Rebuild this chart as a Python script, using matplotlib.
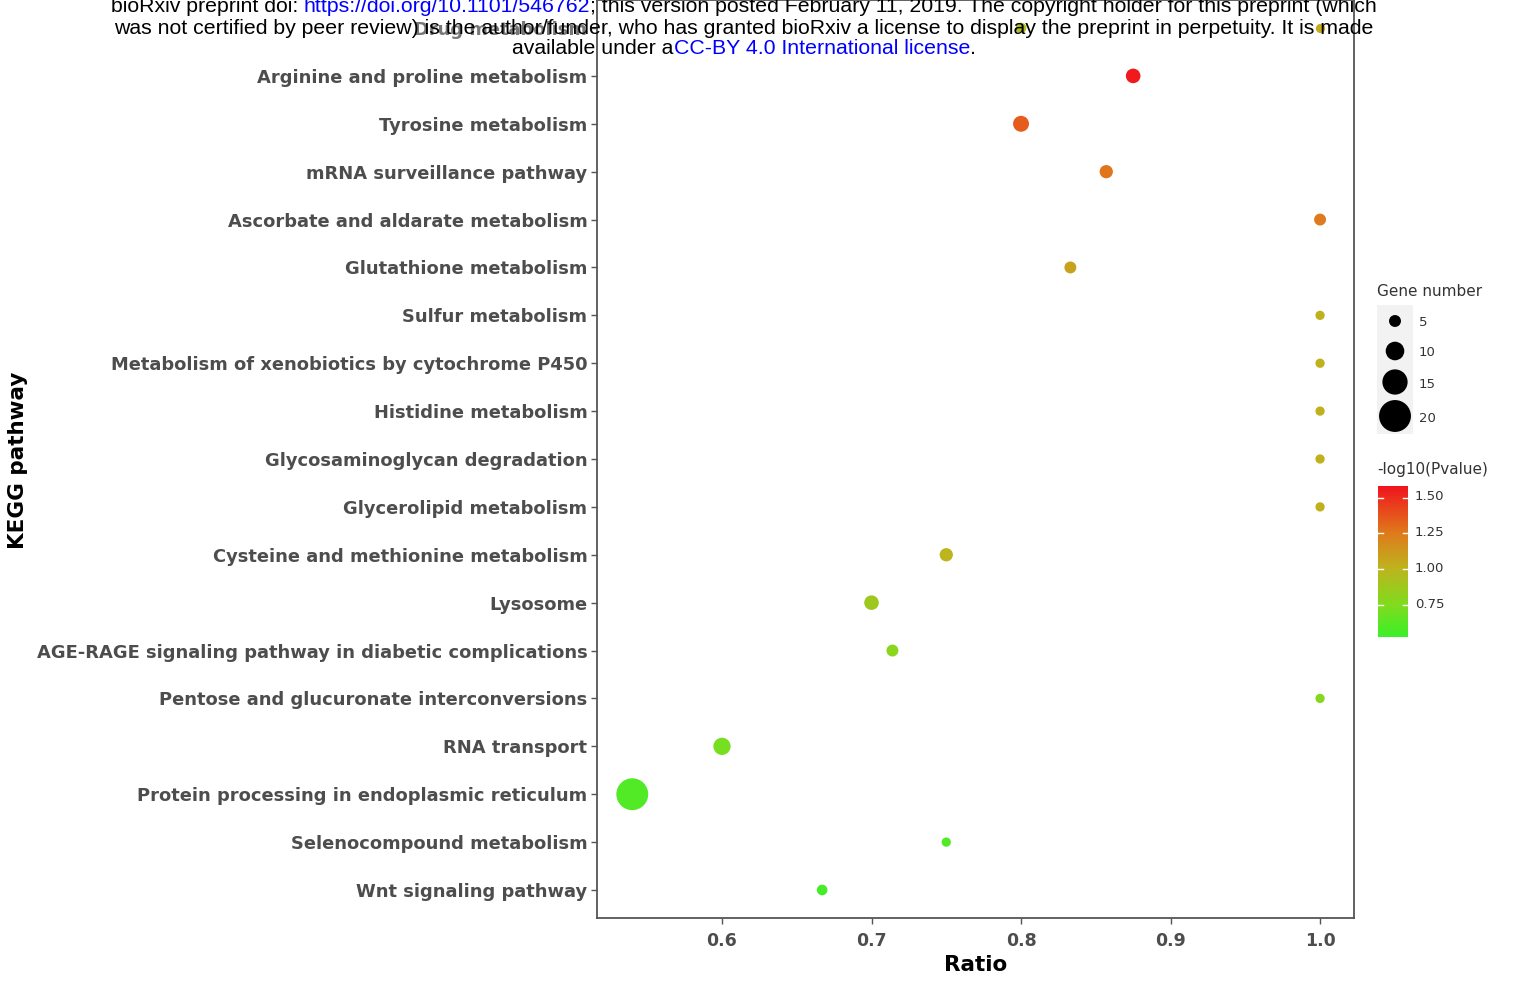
import numpy as np
import matplotlib
matplotlib.use("Agg")
import matplotlib.pyplot as plt
from matplotlib.colors import LinearSegmentedColormap, Normalize

# --- data (bottom row first) ---
pathways = [
    "Wnt signaling pathway",
    "Selenocompound metabolism",
    "Protein processing in endoplasmic reticulum",
    "RNA transport",
    "Pentose and glucuronate interconversions",
    "AGE-RAGE signaling pathway in diabetic complications",
    "Lysosome",
    "Cysteine and methionine metabolism",
    "Glycerolipid metabolism",
    "Glycosaminoglycan degradation",
    "Histidine metabolism",
    "Metabolism of xenobiotics by cytochrome P450",
    "Sulfur metabolism",
    "Glutathione metabolism",
    "Ascorbate and aldarate metabolism",
    "mRNA surveillance pathway",
    "Tyrosine metabolism",
    "Arginine and proline metabolism",
    "Drug metabolism",
]
ratio = [0.667, 0.75, 0.54, 0.60, 1.0, 0.714, 0.70, 0.75, 1.0, 1.0,
         1.0, 1.0, 1.0, 0.833, 1.0, 0.857, 0.80, 0.875, 0.80]
gene_number = [4, 3, 20, 9, 3, 5, 7, 6, 3, 3, 3, 3, 3, 5, 5, 6, 8, 7, 4]
neg_log_p = [0.56, 0.60, 0.60, 0.72, 0.78, 0.80, 0.88, 1.00, 1.02, 1.02,
             1.02, 1.02, 1.02, 1.08, 1.25, 1.27, 1.35, 1.56, 0.95]
# second point on the top row
extra_ratio = [1.0]
extra_genes = [3]
extra_p = [1.05]

size_breaks = [5, 10, 15, 20]
color_ticks = [0.75, 1.00, 1.25, 1.50]
p_min, p_max = 0.53, 1.58

W, H, DPI = 1519, 982, 100
fig = plt.figure(figsize=(W / DPI, H / DPI), dpi=DPI)

cmap = LinearSegmentedColormap.from_list(
    "gr", [(0.0, "#3CF02A"), (0.21, "#80DC1E"), (0.45, "#BDB51E"),
           (0.69, "#E07A1C"), (1.0, "#F0141E")])
norm = Normalize(p_min, p_max)


def marker_area(n):
    d = 5.3 + 1.33 * np.asarray(n, dtype=float)  # diameter in px
    return (d * 72 / DPI) ** 2


text_gray = "#4D4D4D"
frame_gray = "#555555"

ax = fig.add_axes([597 / W, 1 - 918 / H, (1354 - 597) / W, 918 / H])
ypos = np.arange(len(pathways))
ax.scatter(ratio, ypos, s=marker_area(gene_number), c=neg_log_p,
           cmap=cmap, norm=norm, linewidths=0, zorder=3)
ax.scatter(extra_ratio, [len(pathways) - 1] * len(extra_ratio),
           s=marker_area(extra_genes), c=extra_p, cmap=cmap, norm=norm,
           linewidths=0, zorder=3)
ax.set_xlim(0.5164, 1.0227)
ax.set_ylim(-0.585, len(pathways) - 1 + 0.585)
ax.set_yticks(ypos)
ax.set_yticklabels(pathways, fontsize=12.9, fontweight="bold", color=text_gray)
ax.get_yticklabels()[-1].set_color("#777777")
ax.set_xticks([0.6, 0.7, 0.8, 0.9, 1.0])
ax.set_xticklabels(["0.6", "0.7", "0.8", "0.9", "1.0"], fontsize=12.5,
                   fontweight="bold", color=text_gray)
ax.tick_params(axis="both", color=frame_gray, length=4, width=1, pad=3)
ax.tick_params(axis="x", pad=6)
for sp in ax.spines.values():
    sp.set_color(frame_gray)
    sp.set_linewidth(1.3)
ax.set_xlabel("Ratio", fontsize=15.5, fontweight="bold", labelpad=4)
fig.text(18 / W, 1 - 460 / H, "KEGG pathway", rotation=90, fontsize=15.5,
         fontweight="bold", ha="center", va="center")

# --- size legend ---
fig.text(1377 / W, 1 - 291 / H, "Gene number", fontsize=11, color="#333333",
         va="center", ha="left")
lax = fig.add_axes([1377 / W, 1 - 434 / H, 36 / W, (434 - 305) / H])
key_y = [321, 351, 382, 416]
lax.set_xlim(0, 1)
lax.set_ylim(434, 305)
lax.add_patch(plt.Rectangle((0, 305), 1, 129, color="#F2F2F2", zorder=0))
lax.scatter([0.5] * len(size_breaks), key_y, s=marker_area(size_breaks),
            color="black", linewidths=0, zorder=2)
lax.axis("off")
for yk, lab in zip(key_y, size_breaks):
    fig.text(1419 / W, 1 - (yk + 2) / H, str(lab), fontsize=9.5,
             color="#333333", va="center", ha="left")

# --- colour bar ---
fig.text(1377 / W, 1 - 470 / H, "-log10(Pvalue)", fontsize=11,
         color="#333333", va="center", ha="left")
cax = fig.add_axes([1378 / W, 1 - 637 / H, 30 / W, (637 - 486) / H])
grad = np.linspace(p_min, p_max, 256).reshape(-1, 1)
cax.imshow(grad, aspect="auto", cmap=cmap, norm=norm, origin="lower",
           extent=[0, 1, p_min, p_max])
cax.set_xlim(0, 1)
cax.set_ylim(p_min, p_max)
for t in color_ticks:
    cax.plot([0, 0.18], [t, t], color="white", lw=1)
    cax.plot([0.82, 1], [t, t], color="white", lw=1)
cax.axis("off")
for t in color_ticks:
    y_px = 605 - (t - 0.75) / 0.25 * 36
    fig.text(1415 / W, 1 - y_px / H, f"{t:.2f}", fontsize=9.5,
             color="#333333", va="center", ha="left")

# --- preprint header ---
header = [
    [("bioRxiv preprint doi: ", "black"),
     ("https://doi.org/10.1101/546762", "#0000FF"),
     ("; this version posted February 11, 2019. The copyright holder for this preprint (which", "black")],
    [("was not certified by peer review) is the author/funder, who has granted bioRxiv a license to display the preprint in perpetuity. It is made", "black")],
    [("available under a", "black"),
     ("CC-BY 4.0 International license", "#0000FF"),
     (".", "black")],
]
line_y = [7, 28, 49]
center_x = 744
fig.canvas.draw()
renderer = fig.canvas.get_renderer()
for parts, yl in zip(header, line_y):
    texts = [fig.text(0, 1 - yl / H, s, color=c, fontsize=15.3,
                      family="Liberation Sans", va="center", ha="left",
                      zorder=10) for s, c in parts]
    widths = [t.get_window_extent(renderer).width for t in texts]
    x0 = center_x - sum(widths) / 2
    for t, w in zip(texts, widths):
        t.set_x(x0 / W)
        x0 += w

fig.savefig("out.png", dpi=DPI)
